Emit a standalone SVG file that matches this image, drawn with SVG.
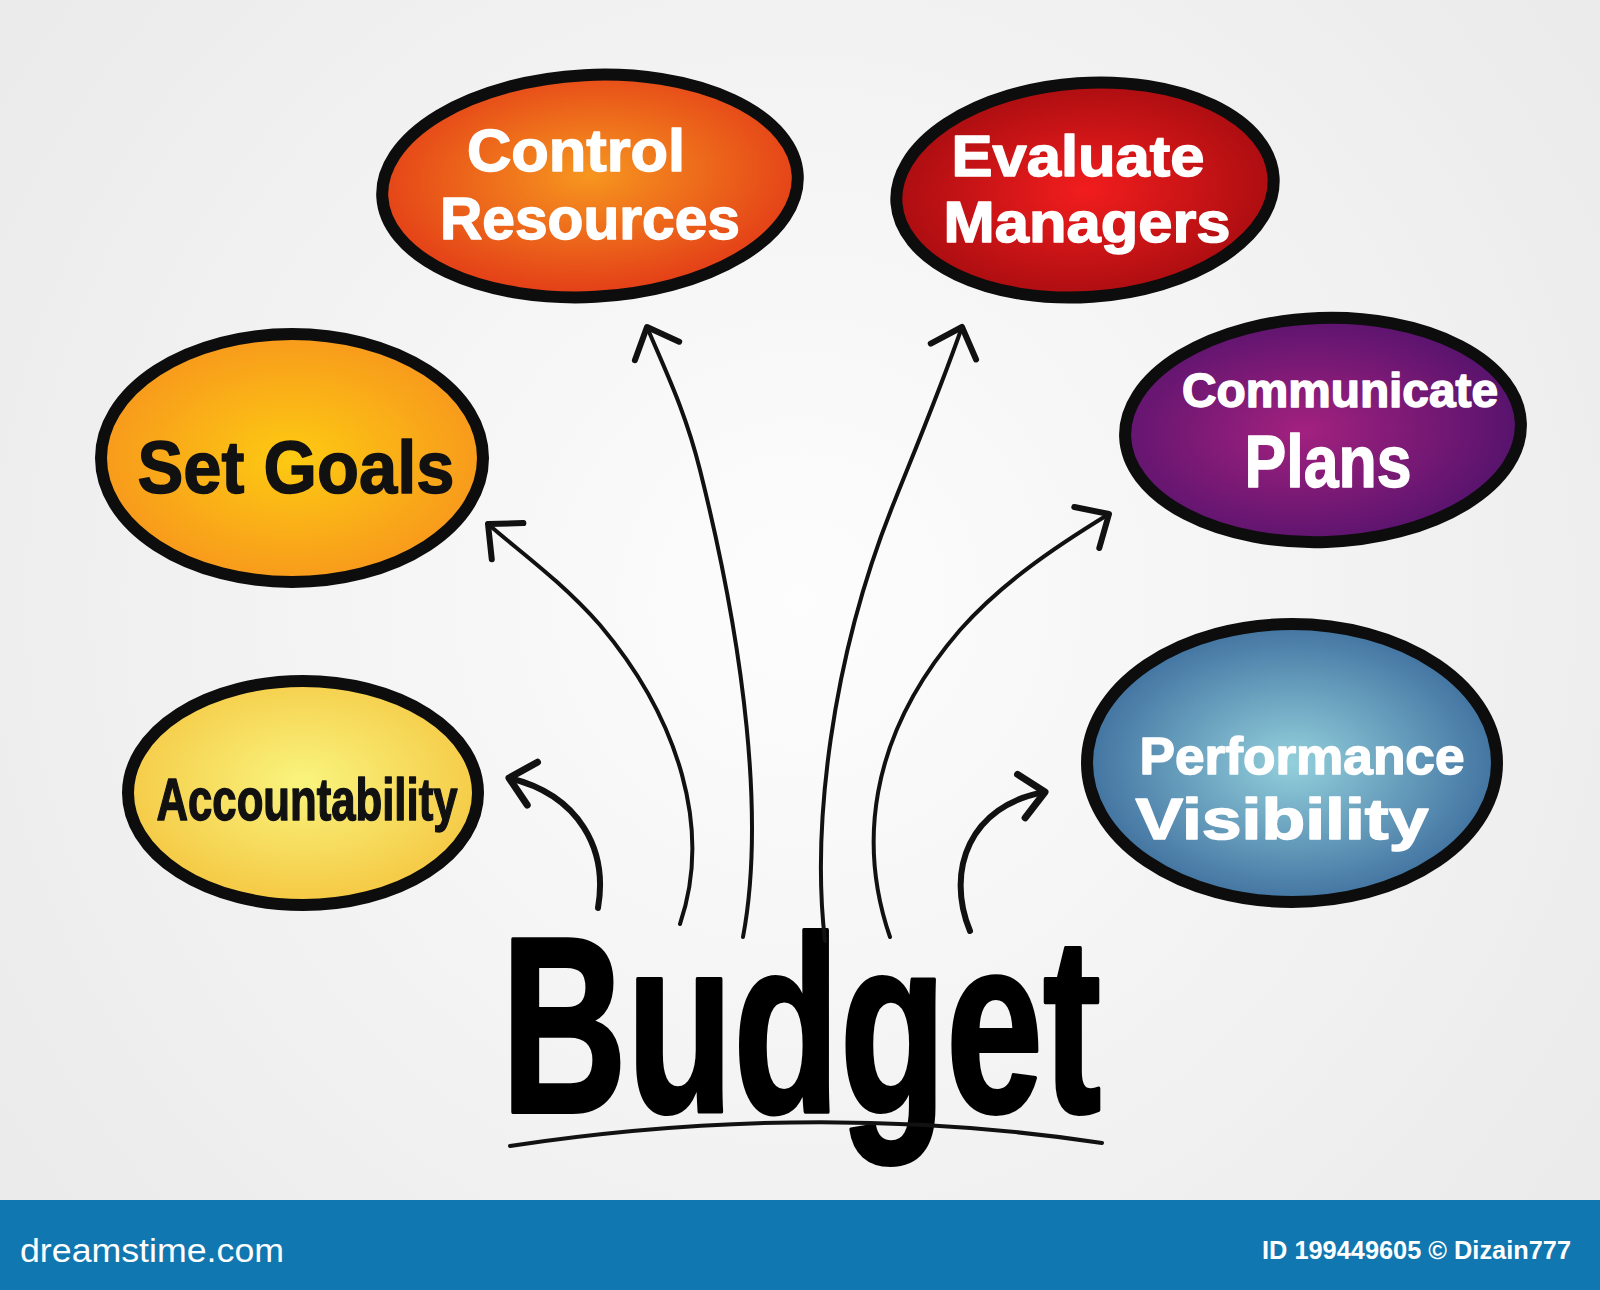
<svg xmlns="http://www.w3.org/2000/svg" width="1600" height="1290" viewBox="0 0 1600 1290">
  <defs>
    <radialGradient id="bg" cx="800" cy="600" r="950" gradientUnits="userSpaceOnUse">
      <stop offset="0" stop-color="#fdfdfd"/>
      <stop offset="1" stop-color="#ebebeb"/>
    </radialGradient>
    <radialGradient id="gCtrl" cx="0.5" cy="0.45" r="0.55">
      <stop offset="0" stop-color="#f7961f"/>
      <stop offset="1" stop-color="#e33c17"/>
    </radialGradient>
    <radialGradient id="gEval" cx="0.5" cy="0.5" r="0.55">
      <stop offset="0" stop-color="#f21d1d"/>
      <stop offset="1" stop-color="#a50c10"/>
    </radialGradient>
    <radialGradient id="gGoal" cx="0.5" cy="0.5" r="0.55">
      <stop offset="0" stop-color="#fdca12"/>
      <stop offset="1" stop-color="#f7951d"/>
    </radialGradient>
    <radialGradient id="gComm" cx="0.45" cy="0.5" r="0.55">
      <stop offset="0" stop-color="#a3217f"/>
      <stop offset="1" stop-color="#56136d"/>
    </radialGradient>
    <radialGradient id="gAcc" cx="0.5" cy="0.45" r="0.55">
      <stop offset="0" stop-color="#f9f47e"/>
      <stop offset="1" stop-color="#f5c843"/>
    </radialGradient>
    <radialGradient id="gPerf" cx="0.5" cy="0.5" r="0.55">
      <stop offset="0" stop-color="#93d0dc"/>
      <stop offset="1" stop-color="#3a6a9b"/>
    </radialGradient>
    <marker id="head" markerUnits="userSpaceOnUse" markerWidth="80" markerHeight="80" refX="0" refY="0" orient="auto" overflow="visible">
      <path d="M -26 -24 L 0 0 L -26 24" fill="none" stroke="#111" stroke-width="6" stroke-linecap="round" stroke-linejoin="round"/>
    </marker>
    <marker id="headS" markerUnits="userSpaceOnUse" markerWidth="80" markerHeight="80" refX="0" refY="0" orient="auto" overflow="visible">
      <path d="M -24 -22 L 0 0 L -24 22" fill="none" stroke="#111" stroke-width="7" stroke-linecap="round" stroke-linejoin="round"/>
    </marker>
  </defs>
  <style>
    .oval { stroke: #0d0d0d; stroke-width: 12; }
    .lw { font-family: "Liberation Sans", "DejaVu Sans", sans-serif; font-weight: bold; fill: #ffffff; stroke: #ffffff; stroke-width: 1.5; stroke-linejoin: round; text-anchor: middle; }
    .lb { font-family: "Liberation Sans", "DejaVu Sans", sans-serif; font-weight: bold; fill: #111111; stroke: #111111; stroke-width: 1.5; stroke-linejoin: round; text-anchor: middle; }
    .conn { fill: none; stroke: #111111; stroke-width: 4; stroke-linecap: round; }
    .conn2 { fill: none; stroke: #111111; stroke-width: 6; stroke-linecap: round; }
    .foot { font-family: "Liberation Sans", "DejaVu Sans", sans-serif; fill: #ffffff; }
  </style>

  <rect x="0" y="0" width="1600" height="1200" fill="url(#bg)"/>

  <g id="node-control-resources">
    <ellipse class="oval" cx="590" cy="186" rx="208" ry="111" fill="url(#gCtrl)" transform="rotate(-3 590 186)"/>
    <text class="lw" x="576" y="171" font-size="60" textLength="218" lengthAdjust="spacingAndGlyphs">Control</text>
    <text class="lw" x="590" y="239" font-size="60" textLength="300" lengthAdjust="spacingAndGlyphs">Resources</text>
  </g>

  <g id="node-evaluate-managers">
    <ellipse class="oval" cx="1085" cy="190" rx="189" ry="107" fill="url(#gEval)" transform="rotate(-4 1085 190)"/>
    <text class="lw" x="1078" y="176" font-size="58" textLength="253" lengthAdjust="spacingAndGlyphs">Evaluate</text>
    <text class="lw" x="1087" y="242" font-size="58" textLength="287" lengthAdjust="spacingAndGlyphs">Managers</text>
  </g>

  <g id="node-set-goals">
    <ellipse class="oval" cx="292" cy="458" rx="191" ry="124" fill="url(#gGoal)"/>
    <text class="lb" x="296" y="493" font-size="75" textLength="317" lengthAdjust="spacingAndGlyphs">Set Goals</text>
  </g>

  <g id="node-communicate-plans">
    <ellipse class="oval" cx="1323" cy="430" rx="198" ry="112" fill="url(#gComm)" transform="rotate(-2 1323 430)"/>
    <text class="lw" x="1340" y="407" font-size="48" textLength="316" lengthAdjust="spacingAndGlyphs">Communicate</text>
    <text class="lw" x="1328" y="487" font-size="74" textLength="167" lengthAdjust="spacingAndGlyphs">Plans</text>
  </g>

  <g id="node-accountability">
    <ellipse class="oval" cx="303" cy="793" rx="175" ry="112" fill="url(#gAcc)"/>
    <text class="lb" x="307" y="820" font-size="60" textLength="301" lengthAdjust="spacingAndGlyphs">Accountability</text>
  </g>

  <g id="node-performance-visibility">
    <ellipse class="oval" cx="1292" cy="763" rx="205" ry="139" fill="url(#gPerf)"/>
    <text class="lw" x="1302" y="774" font-size="52" textLength="325" lengthAdjust="spacingAndGlyphs">Performance</text>
    <text class="lw" x="1282" y="839" font-size="58" textLength="293" lengthAdjust="spacingAndGlyphs">Visibility</text>
  </g>

  <g id="node-budget">
    <text x="801" y="1112" font-family="Liberation Sans, DejaVu Sans, sans-serif" font-weight="bold" font-size="250" fill="#000" stroke="#000" stroke-width="4" stroke-linejoin="round" text-anchor="middle" textLength="600" lengthAdjust="spacingAndGlyphs">Budget</text>
    <path d="M 510 1146 Q 816 1100 1102 1143" fill="none" stroke="#111" stroke-width="4" stroke-linecap="round"/>
  </g>

  <g id="connectors">
    <path class="conn" marker-end="url(#head)" d="M 680 924 C 712 830, 680 720, 600 625 C 560 580, 520 552, 488 524"/>
    <path class="conn" marker-end="url(#head)" d="M 743 937 C 765 820, 745 650, 700 470 C 685 410, 665 370, 647 327"/>
    <path class="conn" marker-end="url(#head)" d="M 825 941 C 812 830, 830 660, 895 500 C 915 450, 940 390, 962 327"/>
    <path class="conn" marker-end="url(#head)" d="M 890 937 C 860 850, 865 740, 960 630 C 1000 585, 1050 550, 1109 514"/>
    <path class="conn2" marker-end="url(#headS)" d="M 598 908 C 608 850, 580 795, 509 778"/>
    <path class="conn2" marker-end="url(#headS)" d="M 970 931 C 945 870, 970 805, 1045 792"/>
  </g>

  <g id="footer">
    <rect x="0" y="1200" width="1600" height="90" fill="#1077b0"/>
    <text class="foot" x="20" y="1262" font-size="34" textLength="264" lengthAdjust="spacingAndGlyphs">dreamstime.com</text>
    <text class="foot" x="1571" y="1259" font-size="26" font-weight="bold" text-anchor="end" textLength="309" lengthAdjust="spacingAndGlyphs">ID 199449605 © Dizain777</text>
  </g>
</svg>
